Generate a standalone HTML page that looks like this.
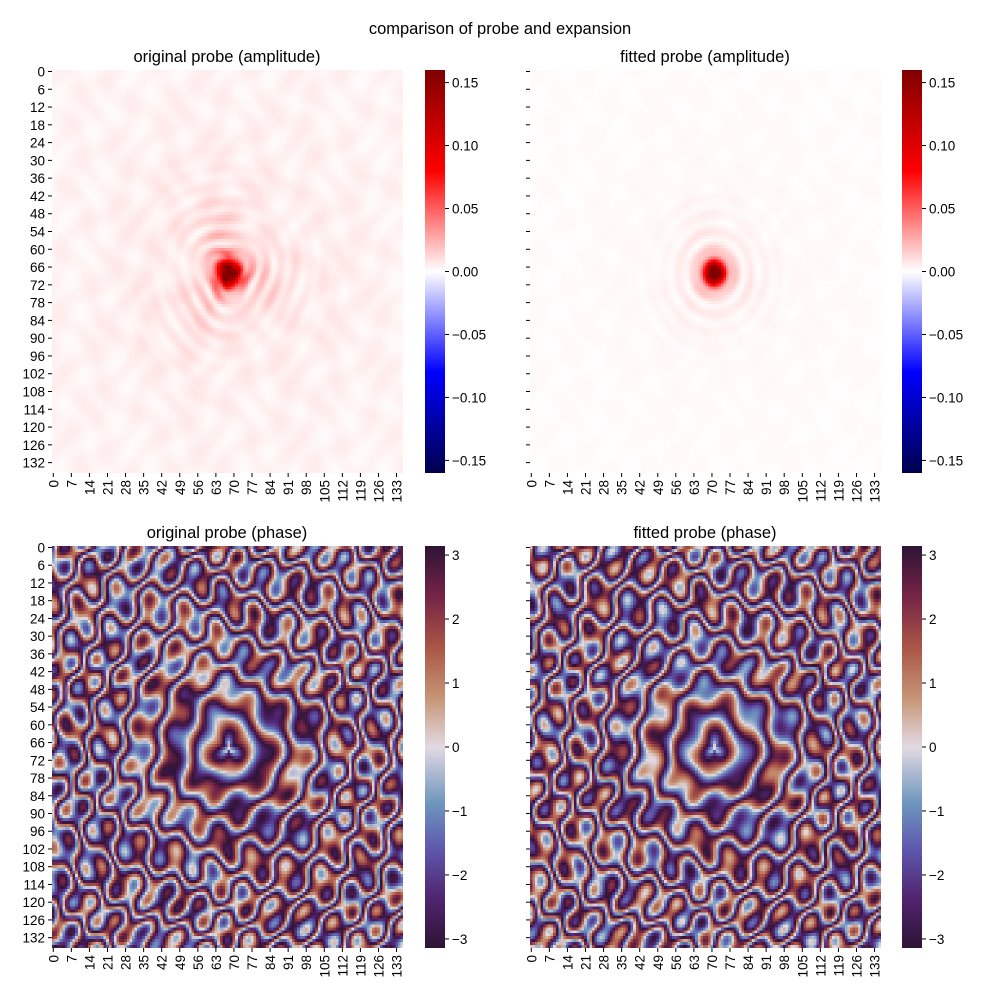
<!DOCTYPE html>
<html><head><meta charset="utf-8">
<style>
html,body{margin:0;padding:0;background:#fff;}
#wrap{position:relative;width:1000px;height:1000px;overflow:hidden;font-family:"Liberation Sans",sans-serif;}
canvas{position:absolute;image-rendering:pixelated;}
svg{position:absolute;left:0;top:0;}
</style></head>
<body>
<div id="wrap">
<canvas id="c0" width="136" height="136" style="left:52px;top:70px;width:351px;height:403px"></canvas>
<canvas id="c1" width="136" height="136" style="left:530px;top:70px;width:351px;height:403px"></canvas>
<canvas id="c2" width="136" height="136" style="left:52px;top:546px;width:351px;height:402px"></canvas>
<canvas id="c3" width="136" height="136" style="left:530px;top:546px;width:351px;height:402px"></canvas>
<canvas id="cb0" width="1" height="256" style="left:425px;top:70px;width:20px;height:403px"></canvas>
<canvas id="cb1" width="1" height="256" style="left:902px;top:70px;width:20px;height:403px"></canvas>
<canvas id="cb2" width="1" height="256" style="left:425px;top:546px;width:20px;height:402px"></canvas>
<canvas id="cb3" width="1" height="256" style="left:902px;top:546px;width:20px;height:402px"></canvas>
<svg id="ov" width="1000" height="1000" font-family="Liberation Sans, sans-serif">
<text x="500" y="34" text-anchor="middle" font-size="16.5">comparison of probe and expansion</text>
<text x="227" y="62" text-anchor="middle" font-size="16.5">original probe (amplitude)</text>
<text x="705" y="62" text-anchor="middle" font-size="16.5">fitted probe (amplitude)</text>
<text x="227" y="538" text-anchor="middle" font-size="16.5">original probe (phase)</text>
<text x="705" y="538" text-anchor="middle" font-size="16.5">fitted probe (phase)</text>
</svg>
</div>
<script>
// ---- data ----
const nCells = 136;
const yTickLabels = [0,6,12,18,24,30,36,42,48,54,60,66,72,78,84,90,96,102,108,114,120,126,132];
const xTickLabels = [0,7,14,21,28,35,42,49,56,63,70,77,84,91,98,105,112,119,126,133];
const ampTicks = [0.15,0.10,0.05,0.00,-0.05,-0.10,-0.15];
const ampRange = [-0.16,0.16];
const phaseTicks = [3,2,1,0,-1,-2,-3];
const phaseRange = [-Math.PI,Math.PI];
// probe centres [col,row], peak amplitude, core radius
const origCenter = [68,68], fitCenter = [71,68];
const peakAmp = [0.16,0.16];
const coreRadius = [3.2,3.0];
const bgAmp = [0.005,0.0015];
// phase ring wavenumber (rad per cell) and angular perturbation
const ringK = [0.7,0.72];
const angPert = [1.2,0.8];

// ---- colormaps ----
function lerp(a,b,t){return a+(b-a)*t;}
function cmap(stops,t){t=Math.max(0,Math.min(1,t));for(let i=1;i<stops.length;i++){if(t<=stops[i][0]){const a=stops[i-1],b=stops[i];const u=(t-a[0])/(b[0]-a[0]);return [lerp(a[1],b[1],u),lerp(a[2],b[2],u),lerp(a[3],b[3],u)];}}const l=stops[stops.length-1];return [l[1],l[2],l[3]];}
const seismic=[[0,0,0,77],[0.25,0,0,255],[0.5,255,255,255],[0.75,255,0,0],[1,128,0,0]];
const twil=[[0,47,20,54],[0.12,80,35,110],[0.25,95,90,175],[0.36,110,150,190],[0.5,226,217,226],[0.62,200,150,120],[0.75,170,85,70],[0.88,115,35,70],[1,47,20,54]];

function draw(id,fn,stops,rng){const c=document.getElementById(id),x=c.getContext('2d');const im=x.createImageData(136,136);for(let r=0;r<136;r++)for(let q=0;q<136;q++){const v=fn(q,r);const col=cmap(stops,(v-rng[0])/(rng[1]-rng[0]));const i=(r*136+q)*4;im.data[i]=col[0];im.data[i+1]=col[1];im.data[i+2]=col[2];im.data[i+3]=255;}x.putImageData(im,0,0);}
function drawBar(id,stops){const c=document.getElementById(id),x=c.getContext('2d');const im=x.createImageData(1,256);for(let i=0;i<256;i++){const col=cmap(stops,1-i/255);im.data[i*4]=col[0];im.data[i*4+1]=col[1];im.data[i*4+2]=col[2];im.data[i*4+3]=255;}x.putImageData(im,0,0);}

function ampFn(k,cen){return (q,r)=>{const dx=q-cen[0],dy=r-cen[1];const d=Math.hypot(dx,dy);const th=Math.atan2(dy,dx);
 let v=peakAmp[k]*Math.exp(-(d*d)/(2*coreRadius[k]*coreRadius[k]));
 const ring=Math.pow(Math.abs(Math.sin(d*0.55+ (k?0:0.8*Math.sin(3*th)))),2);
 v+=(k?0.03:0.04)*Math.exp(-d/(k?8:10))*ring*(1+ (k?0.3:0.7)*Math.cos(3*th-0.5));
 v+=bgAmp[k]*(0.6+0.4*Math.sin(q*0.35+Math.sin(r*0.25))*Math.cos(r*0.3+Math.sin(q*0.2)))*(1+1.5*Math.exp(-d/40));
 return v;};}
function phaseFn(k,cen){return (q,r)=>{const dx=q-cen[0],dy=r-cen[1];const d=Math.hypot(dx,dy);const th=Math.atan2(dy,dx);
 const w=Math.min(1,d/45);
 let p=-ringK[k]*d + angPert[k]*Math.sin(3*th+d*0.03) + 3.0*w*Math.sin(q*0.45+r*0.2+Math.sin(r*0.15)) + 2.5*w*Math.cos(r*0.42-q*0.18+Math.cos(q*0.12));
 p=((p%(2*Math.PI))+3*Math.PI)%(2*Math.PI)-Math.PI;return p;};}
draw('c0',ampFn(0,origCenter),seismic,ampRange);
draw('c1',ampFn(1,fitCenter),seismic,ampRange);
draw('c2',phaseFn(0,origCenter),twil,phaseRange);
draw('c3',phaseFn(1,fitCenter),twil,phaseRange);
['cb0','cb1'].forEach(i=>drawBar(i,seismic));['cb2','cb3'].forEach(i=>drawBar(i,twil));

// ---- axes ----
const svg=document.getElementById('ov');const NS='http://www.w3.org/2000/svg';
function el(t,a){const e=document.createElementNS(NS,t);for(const k in a)e.setAttribute(k,a[k]);svg.appendChild(e);return e;}
const panels=[{x:52,y:70,h:403,labels:true},{x:530,y:70,h:403,labels:false},{x:52,y:546,h:402,labels:true},{x:530,y:546,h:402,labels:false}];
panels.forEach(p=>{const cw=351/nCells,ch=p.h/nCells;
 yTickLabels.forEach(v=>{const y=p.y+(v+0.5)*ch;const l=el('line',{x1:p.x-4,x2:p.x,y1:y,y2:y,stroke:'#000','stroke-width':1});
  
  
  if(p.labels){const t=el('text',{x:p.x-7,y:y+5,'text-anchor':'end','font-size':'13.5'});t.textContent=v;
  
  }});
 xTickLabels.forEach(v=>{const x=p.x+(v+0.5)*cw;const yb=p.y+p.h;const l=el('line',{x1:x,x2:x,y1:yb,y2:yb+4,stroke:'#000','stroke-width':1});
  
  
  const t=el('text',{x:0,y:0,'text-anchor':'end','font-size':'13.5',transform:`translate(${x+5},${yb+7}) rotate(-90)`});t.textContent=v;
  
  });
});
const bars=[{x:445,y:70,h:403,ticks:ampTicks,rng:ampRange,f:v=>v.toFixed(2).replace('-','\u2212')},{x:922,y:70,h:403,ticks:ampTicks,rng:ampRange,f:v=>v.toFixed(2).replace('-','\u2212')},{x:445,y:546,h:402,ticks:phaseTicks,rng:phaseRange,f:v=>String(v).replace('-','\u2212')},{x:922,y:546,h:402,ticks:phaseTicks,rng:phaseRange,f:v=>String(v).replace('-','\u2212')}];
bars.forEach(b=>{b.ticks.forEach(v=>{const y=b.y+(b.rng[1]-v)/(b.rng[1]-b.rng[0])*b.h;const l=el('line',{x1:b.x,x2:b.x+4,y1:y,y2:y,stroke:'#000','stroke-width':1});
 
 
 const t=el('text',{x:b.x+7,y:y+5,'font-size':'13.5'});t.textContent=b.f(v);
 
 });});
</script>
</body></html>
